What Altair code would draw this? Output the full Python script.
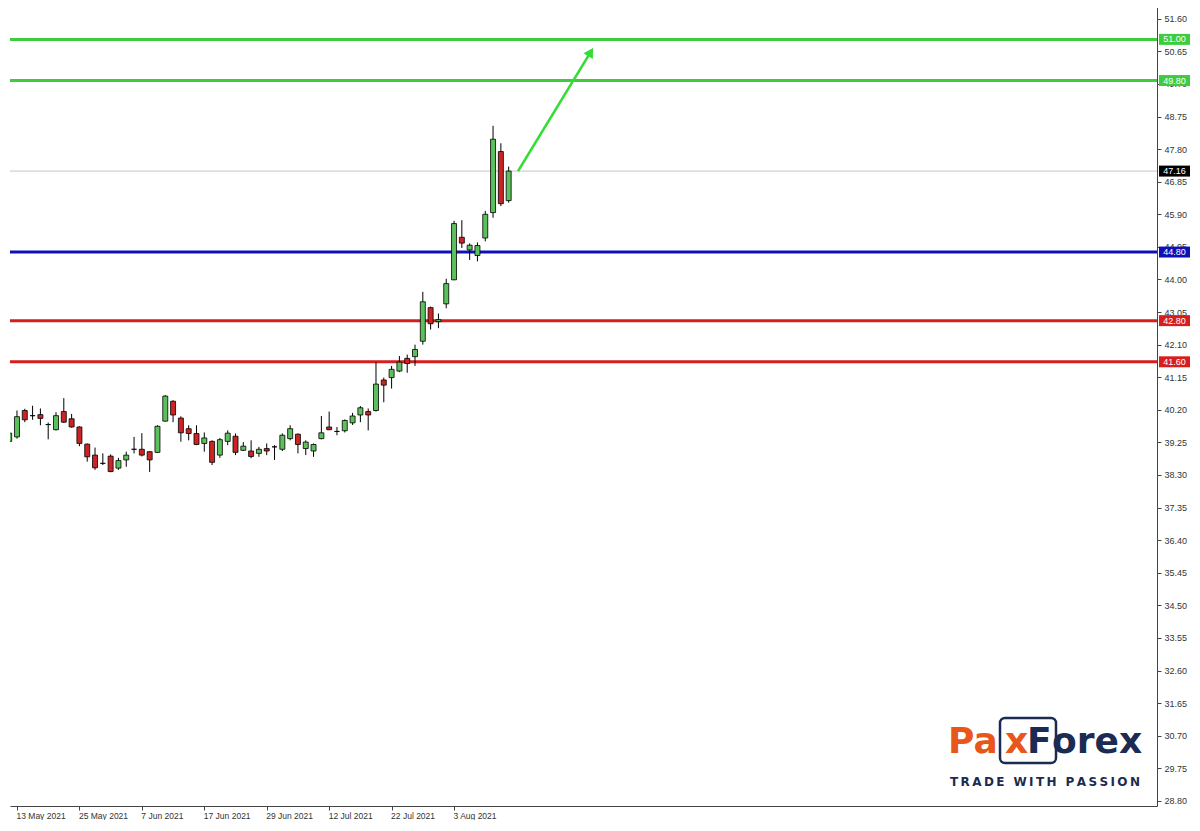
import json
import altair as alt
import pandas as pd

# ---------------- data ----------------
bar_index = list(range(-1, 64))
opens = [39.28, 39.41, 40.18, 40.03, 40.06, 39.77, 39.62, 40.15, 39.94, 39.70,
         39.20, 38.88, 38.64, 38.85, 38.50, 38.74, 39.05, 39.05, 38.98, 38.96,
         39.87, 40.45, 39.96, 39.65, 39.51, 39.22, 39.28, 38.88, 39.28, 39.43,
         39.02, 39.00, 38.93, 39.07, 39.12, 39.05, 39.36, 39.49, 39.07, 39.00,
         39.36, 39.70, 39.57, 39.59, 39.82, 40.05, 40.15, 40.18, 41.07, 41.14,
         41.33, 41.70, 41.75, 42.20, 43.18, 42.77, 43.29, 43.99, 45.23, 44.86,
         44.70, 45.21, 45.95, 47.73, 46.30]
highs = [39.57, 40.18, 40.23, 40.32, 40.24, 39.83, 40.13, 40.54, 40.08, 39.72,
         39.22, 39.10, 38.93, 38.90, 38.80, 38.98, 39.41, 39.52, 38.99, 39.75,
         40.63, 40.48, 40.01, 39.75, 39.75, 39.54, 39.31, 39.38, 39.60, 39.51,
         39.26, 39.31, 39.12, 39.22, 39.17, 39.51, 39.75, 39.51, 39.31, 39.22,
         40.02, 40.15, 39.70, 39.92, 40.11, 40.31, 40.24, 41.59, 41.14, 41.48,
         41.77, 41.81, 42.10, 43.64, 43.21, 43.01, 44.02, 45.71, 45.73, 45.05,
         45.08, 46.00, 48.48, 47.97, 47.29]
lows = [39.23, 39.36, 39.84, 39.91, 39.75, 39.34, 39.60, 39.82, 39.68, 39.14,
        38.69, 38.45, 38.59, 38.38, 38.45, 38.54, 38.93, 38.84, 38.39, 38.94,
        39.86, 39.84, 39.27, 39.31, 39.17, 38.98, 38.59, 38.80, 39.17, 38.88,
        39.00, 38.79, 38.83, 38.88, 38.74, 39.00, 39.31, 38.93, 38.88, 38.83,
        39.34, 39.61, 39.46, 39.54, 39.76, 39.84, 39.60, 40.15, 40.42, 40.82,
        41.30, 41.28, 41.48, 42.10, 42.54, 42.58, 43.16, 43.98, 44.92, 44.57,
        44.53, 45.11, 45.80, 46.14, 46.24]
closes = [39.52, 40.00, 39.91, 40.03, 39.95, 39.77, 40.03, 39.84, 39.70, 39.22,
          38.83, 38.51, 38.64, 38.40, 38.72, 38.88, 39.05, 38.88, 38.74, 39.72,
          40.60, 40.05, 39.53, 39.51, 39.19, 39.38, 38.67, 39.33, 39.52, 38.96,
          39.14, 38.84, 39.05, 39.00, 39.12, 39.46, 39.65, 39.19, 39.26, 39.19,
          39.53, 39.62, 39.57, 39.89, 40.02, 40.26, 40.05, 40.95, 40.92, 41.38,
          41.59, 41.55, 41.96, 43.35, 42.71, 42.83, 43.88, 45.63, 45.06, 45.00,
          44.99, 45.90, 48.09, 46.21, 47.16]

tick_positions = [0, 8, 16, 24, 32, 40, 48, 56]
tick_labels = ["13 May 2021", "25 May 2021", "7 Jun 2021", "17 Jun 2021",
               "29 Jun 2021", "12 Jul 2021", "22 Jul 2021", "3 Aug 2021"]
price_ticks = [51.60, 50.65, 49.70, 48.75, 47.80, 46.85, 45.90, 44.95, 44.00,
               43.05, 42.10, 41.15, 40.20, 39.25, 38.30, 37.35, 36.40, 35.45,
               34.50, 33.55, 32.60, 31.65, 30.70, 29.75, 28.80]

level_prices = [51.00, 49.80, 44.80, 42.80, 41.60]
level_colors = ["#3dcc3d", "#3dcc3d", "#1010b8", "#d61e1e", "#d61e1e"]
current_price = 47.16

arrow_x = [64.2, 73.5]
arrow_y = [47.16, 50.63]

# ---------------- tables ----------------
candles = pd.DataFrame({"i": bar_index, "open": opens, "high": highs,
                        "low": lows, "close": closes})
levels = pd.DataFrame({"price": level_prices, "color": level_colors})
boxes = pd.DataFrame({
    "price": level_prices + [current_price],
    "color": level_colors + ["#000000"],
    "label": [f"{p:.2f}" for p in level_prices + [current_price]],
})
current = pd.DataFrame({"price": [current_price]})
arrow = pd.DataFrame({"i": arrow_x, "price": arrow_y})
arrow_head = arrow.tail(1)
one = pd.DataFrame({"k": [0]})

GREEN_BODY = "#5cc05c"
RED_BODY = "#cc2424"
AXIS_COLOR = "#444444"
FONT = "DejaVu Sans"
AXFONT = "Liberation Sans"

W, H = 1147, 806
xscale = alt.Scale(domain=[-0.254, 145.43], nice=False, zero=False)
yscale = alt.Scale(domain=[28.65, 52.148], nice=False, zero=False)

label_expr = json.dumps(tick_labels) + "[round(datum.value / 8)]"
xaxis = alt.Axis(values=tick_positions, labelExpr=label_expr, orient="bottom",
                 labelAlign="left", labelOffset=-1, tickSize=4, labelPadding=1,
                 grid=False, title=None, labelFont=AXFONT, labelFontSize=8.5,
                 labelColor="#333333", domainColor=AXIS_COLOR,
                 tickColor=AXIS_COLOR, labelFlush=False, labelOverlap=False)
yaxis = alt.Axis(values=price_ticks, format=".2f", orient="right",
                 tickSize=4, labelPadding=3, grid=False, title=None,
                 labelFont=AXFONT, labelFontSize=9, labelColor="#333333",
                 domainColor=AXIS_COLOR, tickColor=AXIS_COLOR,
                 labelFlush=False, labelOverlap=False)


def X(field):
    return alt.X(f"{field}:Q", scale=xscale, axis=xaxis)


def Y(field):
    return alt.Y(f"{field}:Q", scale=yscale, axis=yaxis)


level_lines = alt.Chart(levels).mark_rule(strokeWidth=3).encode(
    y=Y("price"), color=alt.Color("color:N", scale=None))

price_line = alt.Chart(current).mark_rule(strokeWidth=1, color="#c4c4c4").encode(
    y=Y("price"))

wicks = alt.Chart(candles).mark_rule(color="#000000", strokeWidth=1, clip=True).encode(
    x=X("i"), y=Y("low"), y2="high")

bodies = alt.Chart(candles).mark_bar(size=5, stroke="#000000", strokeWidth=0.8,
                                     clip=True).encode(
    x=X("i"), y=Y("open"), y2="close",
    color=alt.condition("datum.close >= datum.open", alt.value(GREEN_BODY),
                        alt.value(RED_BODY)))

arrow_line = alt.Chart(arrow).mark_line(color="#33dd33", strokeWidth=2.6).encode(
    x=X("i"), y=Y("price"))
arrow_tip = alt.Chart(arrow_head).mark_point(
    shape="triangle-up", angle=31, size=120, filled=True, opacity=1,
    color="#33dd33").encode(x=X("i"), y=Y("price"))

box_rects = alt.Chart(boxes).transform_calculate(
    top="datum.price + 0.16", bot="datum.price - 0.16"
).mark_rect().encode(
    x=alt.value(W + 2), x2=alt.value(W + 33), y=Y("top"), y2="bot",
    color=alt.Color("color:N", scale=None))
box_texts = alt.Chart(boxes).mark_text(
    color="#ffffff", font=AXFONT, fontSize=9, align="center", baseline="middle"
).encode(x=alt.value(W + 17.5), y=Y("price"), text="label:N")

NAVY = "#1b2b52"
ORANGE = "#e8561c"
LX = -8  # logo x shift: plot starts at page x = 8
logo_box = alt.Chart(one).mark_rect(
    fillOpacity=0, stroke=NAVY, strokeWidth=2.5, cornerRadius=5).encode(
    x=alt.value(998 + LX), x2=alt.value(1054 + LX), y=alt.value(718),
    y2=alt.value(763))


def logo_text(txt, x, color, size=36, y=753):
    return alt.Chart(one).mark_text(
        font=FONT, fontWeight="bold", fontSize=size, align="left",
        baseline="alphabetic", color=color).encode(
        x=alt.value(x + LX), y=alt.value(y), text=alt.value(txt))


tagline = "\u2009".join("TRADE WITH PASSION")
logo = [
    logo_box,
    logo_text("Pa", 946, ORANGE),
    logo_text("x", 1003, ORANGE),
    logo_text("F", 1025, NAVY),
    logo_text("orex", 1050, NAVY),
    logo_text(tagline, 948, NAVY, size=12, y=786),
]

chart = alt.layer(
    level_lines, price_line, wicks, bodies, arrow_line, arrow_tip,
    box_rects, box_texts, *logo
).properties(
    width=W, height=H,
    padding={"left": 0, "top": -8, "right": 2, "bottom": 0},
    background="#ffffff"
).configure_view(strokeOpacity=0)

chart.save("out.html", embed_options={"renderer": "svg", "actions": False})
